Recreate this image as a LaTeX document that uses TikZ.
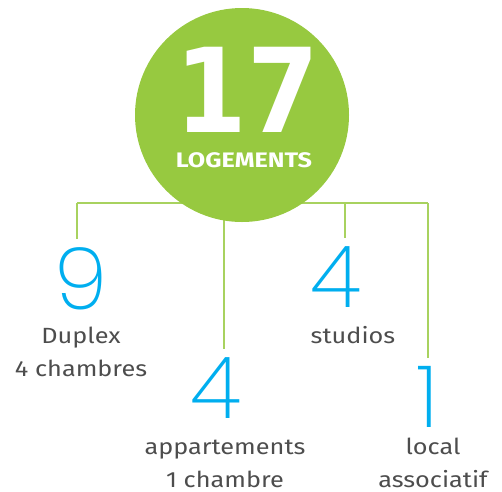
\documentclass[tikz,border=0pt]{standalone}
\usepackage{fontspec}
\setmainfont{Fira Sans}
\newfontfamily\capfont[FakeStretch=1.15]{Fira Sans}
\newfontfamily\headfont[FakeStretch=1.2]{Fira Sans}
\newfontfamily\bigfont{DejaVu Sans}
\newfontfamily\numfont{Poppins ExtraLight}
\usepackage{tikz}
\definecolor{disc}{HTML}{97C940}
\definecolor{branch}{HTML}{A8D25F}
\definecolor{count}{HTML}{00AEEF}
\definecolor{caption}{HTML}{4D4D4D}
\tikzset{
	num/.style={text=count,font=\numfont\fontsize{86}{86}\selectfont,inner sep=0pt,outer sep=8pt},
	lab/.style={text=caption,font=\capfont\fontsize{22}{33}\selectfont,align=center,inner sep=0pt,anchor=base},
	twig/.style={draw=branch,line width=1.2pt}
}

\begin{document}
\begin{tikzpicture}[x=1pt,y=-1pt]
		\useasboundingbox (0,0) rectangle (502,491);
		% counts
		\node[num,anchor=base] (n9) at (81,309) {9};
		\node[num,anchor=base] (n4a) at (216,418) {4};
		\node[num,anchor=base] (n4b) at (336,307) {4};
		\node[num,anchor=base] (n1) at (428,427) {1};
		% captions (base = last line)
		\node[lab] (duplex) at (81,376) {Duplex\\4 chambres};
		\node[lab] (appart) at (225,487) {appartements\\1 chambre};
		\node[lab] (studio) at (353,343) {studios};
		\node[lab] (local) at (433,487) {local\\associatif};
		% tree
		\coordinate (j1) at (77,203);
		\coordinate (j2) at (224,203);
		\coordinate (j3) at (345,203);
		\coordinate (j4) at (428,203);
		\path[twig]
			(j1) edge (j4)
			(j1) edge (j1 |- n9.north)
			(j2) edge (j2 |- n4a.north)
			(j3) edge (j3 |- n4b.north)
			(j4) edge (j4 |- n1.north);
		% disc on top
		\node[circle,fill=disc,minimum size=214pt,inner sep=0pt] (total) at (242,115) {};
		\node[text=white,font=\bigfont\bfseries\fontsize{117}{117}\selectfont,inner sep=0pt,anchor=base] (seventeen) at (247,132) {\scalebox{0.88}[1]{17}};
		\node[text=white,font=\headfont\bfseries\fontsize{21}{21}\selectfont,inner sep=0pt,anchor=base] (logements) at (244,167) {LOGEMENTS};
\end{tikzpicture}
\end{document}
